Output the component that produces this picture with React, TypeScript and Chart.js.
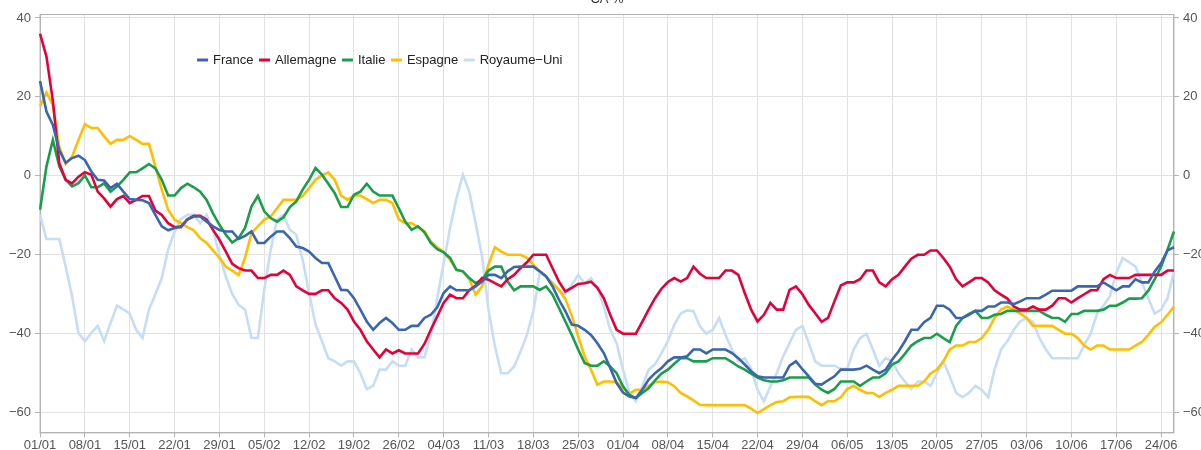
import React, { useEffect, useRef } from 'react';
import { Chart, registerables } from 'chart.js';

Chart.register(...registerables);

const FONT = "'Liberation Sans', Arial, Helvetica, sans-serif";

// Daily categories: 01/01 → 26/06 (2020)
const START_YEAR = 2020;
const N_DAYS = 178;
function buildDayLabels(): string[] {
  const out: string[] = [];
  for (let i = 0; i < N_DAYS; i++) {
    const d = new Date(Date.UTC(START_YEAR, 0, 1 + i));
    const dd = String(d.getUTCDate()).padStart(2, '0');
    const mm = String(d.getUTCMonth() + 1).padStart(2, '0');
    out.push(`${dd}/${mm}`);
  }
  return out;
}
const dayLabels = buildDayLabels();
const xTickEvery = 7;
const yTickValues = [-60, -40, -20, 0, 20, 40];
const titleText = 'CA %';

const france = [
  24, 16.3, 12.9, 6.5, 3.3, 4.5, 5.1, 4, 1.1, -1,
  -1.2, -3.1, -2, -4, -5.9, -6.1, -6.2, -6.9, -9.9, -12.8,
  -13.8, -13.2, -12.8, -11.1, -10.3, -10.3, -11.6, -12.8, -13.7, -14.1,
  -14.1, -16, -15.2, -14.1, -17, -17, -15.4, -14.1, -14.1, -15.8,
  -17.9, -18.3, -19.2, -20.8, -22.1, -22.1, -25.5, -28.9, -29, -31,
  -33.9, -36.9, -39, -37.3, -36, -37.3, -39, -39, -38, -38,
  -36, -35.2, -33.3, -29.7, -28, -29, -29, -29, -28, -26.8,
  -25.1, -25.1, -25.9, -24.2, -23.1, -23, -23, -23, -24.2, -25.5,
  -28, -31.4, -34.3, -37.7, -38, -39, -40.3, -42.4, -44.9, -48.7,
  -52.5, -54.9, -55.9, -56.3, -54.2, -51.6, -50, -48.7, -47, -46,
  -46, -45.7, -44, -44, -45, -44, -44, -44, -44.9, -46.2,
  -47.8, -49.5, -50.8, -51.1, -51.1, -51.1, -51.1, -48.1, -47, -49,
  -50.8, -52.7, -52.9, -51.8, -50.8, -49.1, -49.1, -49.1, -48.9, -48.1,
  -49.1, -50, -49.1, -46.6, -44.5, -41.9, -39, -39, -37.1, -36,
  -32.9, -32.9, -33.9, -36, -36, -35.2, -34.2, -34.2, -33.1, -33.1,
  -32.1, -32.1, -32.5, -31.8, -31, -31, -31, -30.1, -29.1, -29.1,
  -29.1, -29.1, -28, -28, -28, -28, -27, -28, -29, -28,
  -28, -26.2, -27, -27, -24.2, -22.1, -18.9, -18.1,
];

const allemagne = [
  36, 30.2, 19, 3.2, -1, -1.9, -0.2, 0.9, 0.3, -4,
  -5.7, -7.8, -5.9, -5.1, -6.9, -6.1, -5.1, -5.1, -8.8, -9.9,
  -12, -13, -13, -11, -10.1, -10.1, -11.1, -13.7, -16.2, -19.2,
  -22.3, -23.4, -24, -24, -25.9, -25.9, -25.1, -25.1, -24, -25.1,
  -28, -29, -29.9, -29.9, -29, -29, -31, -32.2, -33.9, -36.9,
  -39, -41.9, -44, -46, -44, -45, -44.2, -45, -45, -45,
  -42.6, -39, -35.6, -32.2, -30.1, -31, -31, -29, -27.8, -25.9,
  -26.3, -27.2, -28, -26.2, -25.1, -23.4, -21.9, -20, -20, -20,
  -23.4, -26.8, -29.3, -28.4, -27.4, -27.2, -26.8, -28.4, -31, -35.2,
  -39, -40, -40, -40, -37, -33.9, -31, -28.6, -26.9, -25.9,
  -26.8, -25.9, -23, -24.8, -25.9, -25.9, -25.9, -24, -24, -25.1,
  -29.7, -33.9, -36.9, -35.2, -32.2, -33.9, -33.9, -28.9, -28, -30,
  -32.7, -34.8, -37, -36, -31.8, -27.8, -27, -27, -26.2, -24,
  -24, -27, -28, -26.2, -25.1, -23, -21, -20, -20, -18.9,
  -18.9, -20.8, -23, -26.2, -28, -27, -25.9, -25.9, -27, -29,
  -30.1, -31.1, -33.1, -33.9, -33.9, -33.1, -33.9, -33.9, -32.9, -31,
  -31, -32.1, -31, -30, -29, -29, -26.2, -25.1, -25.9, -25.9,
  -25.9, -25.1, -25.1, -25.1, -25.1, -25.1, -24, -24,
];

const italie = [
  -8.6, 2.4, 9.1, 2.4, -1, -2.7, -1.9, 0.1, -2.9, -2.9,
  -1.9, -4, -2.7, -1, 0.9, 0.9, 1.9, 3, 1.9, -1,
  -5, -5, -3.1, -2, -2.9, -4, -6.1, -9.5, -12.4, -14.9,
  -16.9, -15.8, -13.2, -7.8, -5.1, -9, -10.7, -11.6, -10.5, -7.9,
  -6.5, -3.5, -1, 2, 0.3, -2, -4.4, -7.9, -7.9, -4.8,
  -4, -2, -4, -5, -5, -5, -8.2, -11.6, -13.7, -12.8,
  -14.3, -17, -18.6, -19.4, -20.8, -23.8, -24.2, -25.9, -27.2, -26.3,
  -24, -23, -23, -26.8, -29, -28, -28, -28, -28.9, -28,
  -30.1, -33.5, -36.9, -40.3, -44, -47.4, -48.1, -48.1, -47, -48.3,
  -50, -53.3, -55.5, -56.3, -55, -53.8, -51.8, -50.1, -49.1, -47.6,
  -46.2, -46.2, -47, -47, -47, -46.2, -46.2, -46.2, -47.2, -48.3,
  -49.1, -50.1, -51.1, -51.8, -52.1, -52.1, -51.8, -51.1, -51.1, -51.1,
  -51.1, -52.9, -54.2, -55, -54, -52.1, -52.1, -52.1, -53.2, -52.1,
  -51.1, -51.1, -50, -47.8, -47, -45.1, -43, -41.9, -41.1, -41.1,
  -40, -41.1, -42.1, -38, -36, -35, -34.2, -36, -36, -35.2,
  -35, -34.2, -34.2, -34.2, -34.2, -34.2, -34.2, -35.2, -36, -36,
  -37, -35, -35, -34.2, -34.2, -34.2, -33.9, -32.9, -32.9, -32.1,
  -31.1, -31.1, -31, -29.1, -26.2, -23, -18.7, -14.1,
];

const espagne = [
  17.6, 21.1, 18, 7.4, 3, 4.9, 9.1, 13.1, 12.1, 12.1,
  10, 8.1, 9.1, 9.1, 10.1, 9.1, 8.1, 8.1, 2.4, -3.5,
  -8.6, -11.1, -12, -13, -13.8, -15.8, -17, -18.9, -20.8, -23,
  -24, -25.1, -20.8, -14.5, -12.8, -11.1, -10.3, -8.2, -6.1, -6.1,
  -6.1, -5.1, -3.1, -1, 0.1, 0.9, -1, -5, -6.1, -5,
  -5, -5.9, -6.9, -6.1, -6.1, -6.9, -11, -12, -12, -13,
  -14, -16.6, -18.1, -19.2, -21.3, -23.8, -24.2, -26.2, -30.1, -28,
  -22.5, -18.1, -19.2, -20, -20, -20, -20.8, -22.5, -24.2, -25.5,
  -27.2, -28.9, -31.2, -35.4, -40.7, -45.7, -49.1, -52.9, -52.1, -52.1,
  -52.3, -53.8, -55.2, -54.2, -54.2, -53.2, -52.3, -52.1, -52.3, -53.3,
  -55, -55.9, -56.9, -58, -58.1, -58.1, -58.1, -58.1, -58.1, -58.1,
  -58.1, -59, -60.1, -59.1, -58.1, -57.3, -57.1, -56.1, -56, -56,
  -56, -57.1, -58.1, -57.1, -57.1, -56.1, -54, -53.2, -54.2, -55,
  -55, -56, -55, -54.2, -53.2, -53.2, -53.2, -53.2, -52.1, -50.1,
  -49.1, -47, -44, -43, -43, -42.1, -42.1, -41.1, -39, -36,
  -33.9, -33.1, -33.9, -34.9, -36, -38, -38, -38, -38, -39,
  -40, -40, -41.1, -43, -44, -43, -43, -44, -44, -44,
  -44, -43, -42.1, -40.3, -38.2, -37.1, -35.2, -33.1,
];

const royaumeUni = [
  -9.9, -16, -16, -16, -23, -30.5, -39.8, -41.9, -39.8, -38,
  -41.9, -37.3, -32.9, -33.8, -34.9, -39, -41.1, -33.9, -30, -25.9,
  -18.6, -14.1, -11, -9.9, -9.9, -12, -9.9, -13.8, -20, -25.5,
  -29.9, -32.7, -33.9, -41.1, -41.1, -28.9, -18.7, -11, -9.9, -13.7,
  -14.9, -21.3, -29.7, -37.7, -41.9, -46.2, -47, -48.1, -47, -47,
  -50, -54, -53.2, -49.1, -49.1, -47, -48.1, -48.1, -44, -46,
  -46, -40.3, -31, -22.1, -13.2, -5.7, 0.3, -4, -12, -20.4,
  -33.9, -43.2, -50, -50, -48.3, -44.5, -40.3, -34.3, -24.6, -25.5,
  -27.6, -28.9, -29.9, -27.6, -25.1, -27.2, -25.9, -28.4, -33.1, -39,
  -42.4, -49.1, -55, -57.1, -53.3, -49.1, -47.8, -44.9, -41.9, -37.7,
  -34.9, -34.1, -34.3, -38.1, -40, -39, -36, -40.3, -44, -47,
  -46.2, -48.9, -54.2, -57.1, -53.3, -50, -45.7, -42.4, -39, -38,
  -42.4, -47, -48.1, -48.1, -48.1, -48.9, -48.9, -44, -41.1, -40,
  -44, -48.1, -46.2, -47, -50, -52.1, -54, -52.1, -52.1, -53.2,
  -50, -47, -50.8, -55, -56.1, -55, -53.2, -54.2, -56.1, -49.1,
  -44, -41.9, -39, -36.9, -36, -37, -41.1, -44, -46.2, -46.2,
  -46.2, -46.2, -46.2, -42.8, -40, -34.9, -32.9, -30.5, -24.6, -20.8,
  -21.9, -23, -27, -31, -34.9, -33.9, -31, -24.2,
];

const seriesNames = ['France', 'Allemagne', 'Italie', 'Espagne', 'Royaume\u2212Uni'];
const seriesColors = ['#3a66b0', '#e4003a', '#1b9e4b', '#ffbf00', '#c6def5'];
const seriesValues = [france, allemagne, italie, espagne, royaumeUni];

const toMinus = (v: number) => String(v).replace('-', '\u2212');

const titlePlugin = {
  id: 'topTitle',
  afterDraw(chart: any) {
    const { ctx, chartArea } = chart;
    ctx.save();
    ctx.font = `13px ${FONT}`;
    ctx.fillStyle = '#333';
    ctx.textAlign = 'center';
    ctx.textBaseline = 'alphabetic';
    ctx.fillText(titleText, (chartArea.left + chartArea.right) / 2, 3);
    ctx.restore();
  },
};

const framePlugin = {
  id: 'frame',
  beforeDatasetsDraw(chart: any) {
    const { ctx, chartArea } = chart;
    ctx.save();
    ctx.strokeStyle = '#b3b3b3';
    ctx.lineWidth = 1;
    ctx.strokeRect(chartArea.left, chartArea.top + 0.5, chartArea.right - chartArea.left, chartArea.bottom - chartArea.top);
    ctx.restore();
  },
};

const legendPlugin = {
  id: 'innerLegend',
  afterDraw(chart: any) {
    const { ctx, chartArea } = chart;
    ctx.save();
    ctx.font = `13px ${FONT}`;
    ctx.textBaseline = 'middle';
    ctx.textAlign = 'left';
    let x = chartArea.left + 157;
    const y = chartArea.top + 46;
    chart.data.datasets.forEach((ds: any) => {
      ctx.strokeStyle = ds.borderColor;
      ctx.lineWidth = 3;
      ctx.beginPath();
      ctx.moveTo(x, y);
      ctx.lineTo(x + 11, y);
      ctx.stroke();
      x += 16;
      ctx.fillStyle = '#222';
      ctx.fillText(ds.label, x, y);
      x += ctx.measureText(ds.label).width + 5.5;
    });
    ctx.restore();
  },
};

export default function App() {
  const ref = useRef<HTMLCanvasElement>(null);
  useEffect(() => {
    if (!ref.current) return;
    const yAxisCommon = {
      type: 'linear' as const,
      min: -65,
      max: 41,
      afterBuildTicks: (scale: any) => {
        scale.ticks = yTickValues.map((v) => ({ value: v }));
      },
      border: { display: true, color: '#b3b3b3', width: 1 },
      ticks: {
        color: '#555',
        font: { family: FONT, size: 13 },
        padding: 4,
        callback: (v: any) => toMinus(Number(v)),
      },
    };
    const chart = new Chart(ref.current, {
      type: 'line',
      data: {
        labels: dayLabels,
        datasets: seriesNames.map((name, i) => ({
          label: name,
          data: seriesValues[i],
          borderColor: seriesColors[i],
          backgroundColor: seriesColors[i],
          borderWidth: 2.6,
          pointRadius: 0,
          tension: 0,
          fill: false,
          yAxisID: 'y',
        })),
      },
      options: {
        responsive: false,
        animation: false,
        layout: { padding: { left: 5, right: 1, top: 14, bottom: 0 } },
        plugins: {
          legend: { display: false },
          title: { display: false },
          tooltip: { enabled: false },
        },
        scales: {
          x: {
            type: 'category',
            afterBuildTicks: (scale: any) => {
              scale.ticks = scale.ticks.filter((t: any) => t.value % xTickEvery === 0);
            },
            grid: { color: '#e2e2e2', tickColor: '#b3b3b3', tickLength: 5, drawOnChartArea: true },
            border: { display: true, color: '#b3b3b3', width: 1 },
            ticks: {
              autoSkip: false,
              maxRotation: 0,
              minRotation: 0,
              color: '#555',
              font: { family: FONT, size: 13 },
              padding: 0,
            },
          },
          y: {
            ...yAxisCommon,
            position: 'left',
            grid: { color: '#e2e2e2', tickColor: '#b3b3b3', tickLength: 5 },
          },
          y1: {
            ...yAxisCommon,
            position: 'right',
            grid: { drawOnChartArea: false, tickColor: '#b3b3b3', tickLength: 5 },
          },
        },
      },
      plugins: [framePlugin, legendPlugin, titlePlugin],
    });
    return () => chart.destroy();
  }, []);

  return (
    <div
      style={{
        position: 'fixed',
        left: 0,
        top: 0,
        width: 1201,
        height: 450,
        overflow: 'hidden',
        background: '#fff',
      }}
    >
      <canvas ref={ref} width={1210} height={453} style={{ display: 'block', width: 1210, height: 453 }} />
    </div>
  );
}
